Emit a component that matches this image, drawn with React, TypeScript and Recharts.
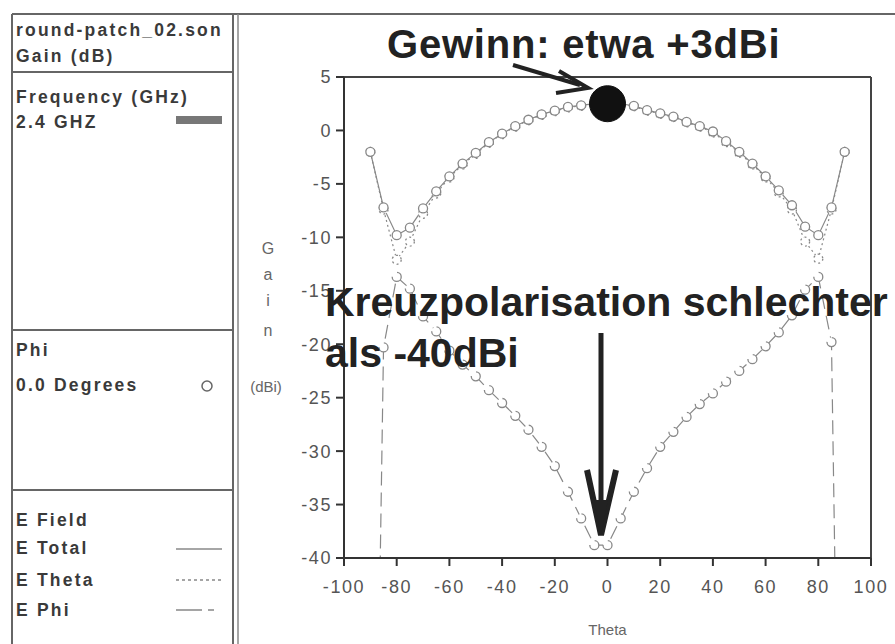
import { LineChart, Line, XAxis, YAxis, ReferenceLine, ReferenceDot } from 'recharts';

const theta = [
  -90, -85, -80, -75, -70, -65, -60, -55, -50, -45, -40, -35, -30, -25, -20, -15, -10, -5, 0,
  5, 10, 15, 20, 25, 30, 35, 40, 45, 50, 55, 60, 65, 70, 75, 80, 85, 90,
];

// E Total (solid)
const eTotal = [
  -2.0, -7.2, -9.8, -9.1, -7.3, -5.7, -4.3, -3.1, -2.1, -1.1, -0.3, 0.4, 1.0, 1.5, 1.85, 2.2, 2.35, 2.5, 2.6,
  2.5, 2.3, 1.9, 1.6, 1.3, 0.8, 0.4, -0.1, -1.0, -2.0, -3.1, -4.3, -5.6, -7.0, -9.0, -9.8, -7.2, -2.0,
];

// E Theta (dotted)
const eTheta = [
  -2.0, -7.4, -12.1, -10.4, -7.8, -5.9, -4.4, -3.2, -2.2, -1.15, -0.35, 0.35, 0.95, 1.45, 1.8, 2.15, 2.3, 2.45, 2.55,
  2.45, 2.25, 1.85, 1.55, 1.25, 0.75, 0.35, -0.2, -1.1, -2.1, -3.2, -4.4, -5.8, -7.4, -10.4, -12.0, -7.4, -2.0,
];

// E Phi (dashed) - drops far below the plot at +/-90
const ePhi = [
  -100, -20.3, -13.7, -14.8, -17.4, -18.8, -20.6, -21.9, -23.0, -24.3, -25.5, -26.7, -28.0, -29.6, -31.4, -33.8, -36.3, -38.8, -38.8,
  -36.3, -33.8, -31.6, -29.6, -28.2, -26.8, -25.6, -24.6, -23.5, -22.5, -21.4, -20.2, -18.9, -17.3, -14.9, -13.7, -19.8, -100,
];

const xTicks = [-100, -80, -60, -40, -20, 0, 20, 40, 60, 80, 100];
const yTicks = [-40, -35, -30, -25, -20, -15, -10, -5, 0, 5];

const data = theta.map((t, i) => ({ theta: t, total: eTotal[i], eth: eTheta[i], eph: ePhi[i] }));

const ring = { r: 4.5, stroke: '#888', strokeWidth: 1.3, fill: '#fff' };
const tickStyle = { fill: '#555', fontSize: 18, letterSpacing: 1.6, fontFamily: 'Liberation Sans' };
const panelText = { fontSize: 17.5, fontWeight: 'bold' as const, fill: '#3a3a3a', letterSpacing: 2.2 };

function Panel() {
  return (
    <svg width={895} height={644} style={{ position: 'absolute', left: 0, top: 0, pointerEvents: 'none' }}
      fontFamily="Liberation Sans">
      {/* frames */}
      <line x1={12} y1={14} x2={895} y2={14} stroke="#666" strokeWidth={2} />
      <line x1={12} y1={14} x2={12} y2={644} stroke="#666" strokeWidth={2} />
      <line x1={233} y1={14} x2={233} y2={644} stroke="#666" strokeWidth={2} />
      <line x1={238} y1={14} x2={238} y2={644} stroke="#888" strokeWidth={1.5} />
      <line x1={12} y1={72} x2={233} y2={72} stroke="#666" strokeWidth={2} />
      <line x1={12} y1={330} x2={233} y2={330} stroke="#666" strokeWidth={2} />
      <line x1={12} y1={490} x2={233} y2={490} stroke="#666" strokeWidth={2} />

      <text x={16} y={36} {...panelText}>round-patch_02.son</text>
      <text x={16} y={62} {...panelText}>Gain (dB)</text>
      <text x={16} y={103} {...panelText}>Frequency (GHz)</text>
      <text x={16} y={128} {...panelText}>2.4 GHZ</text>
      <rect x={176} y={116} width={46} height={8} fill="#777" />
      <text x={16} y={356} {...panelText}>Phi</text>
      <text x={16} y={391} {...panelText}>0.0 Degrees</text>
      <circle cx={207} cy={386} r={5} fill="none" stroke="#666" strokeWidth={1.5} />
      <text x={16} y={526} {...panelText}>E Field</text>
      <text x={16} y={554} {...panelText}>E Total</text>
      <line x1={176} y1={549} x2={222} y2={549} stroke="#888" strokeWidth={1.5} />
      <text x={16} y={586} {...panelText}>E Theta</text>
      <line x1={176} y1={580} x2={222} y2={580} stroke="#888" strokeWidth={1.5} strokeDasharray="3 3" />
      <text x={16} y={616} {...panelText}>E Phi</text>
      <line x1={176} y1={610} x2={222} y2={610} stroke="#888" strokeWidth={1.5} strokeDasharray="26 6 6 40" />

      {/* y axis title */}
      <g fill="#666" fontSize={16} textAnchor="middle">
        <text x={268} y={254}>G</text>
        <text x={268} y={280}>a</text>
        <text x={268} y={306}>i</text>
        <text x={268} y={336}>n</text>
        <text x={266} y={392} fontSize={15}>(dBi)</text>
      </g>

      {/* annotations */}
      <text x={387} y={58} fontSize={40} fontWeight="bold" fill="#222" letterSpacing={0.8}>Gewinn: etwa +3dBi</text>
      <line x1={513} y1={65} x2={580} y2={85} stroke="#222" strokeWidth={4} />
      <polyline points="559,71 588,88 556,93" fill="none" stroke="#222" strokeWidth={4} />

      <text x={325} y={316} fontSize={41} fontWeight="bold" fill="#222">Kreuzpolarisation schlechter</text>
      <text x={325} y={367} fontSize={41} fontWeight="bold" fill="#222">als -40dBi</text>
      <line x1={601} y1={333} x2={601} y2={525} stroke="#222" strokeWidth={5} />
      <polyline points="587,470 601,535 616,470" fill="none" stroke="#222" strokeWidth={6} />
      <polygon points="594,500 601,535 608,500" fill="#222" />
    </svg>
  );
}

export default function App() {
  return (
    <div style={{ position: 'absolute', left: 0, top: 0, width: 895, height: 644, background: '#fff', overflow: 'hidden' }}>
      <div style={{ position: 'absolute', left: 0, top: 0 }}>
        <LineChart width={895} height={644} data={data} margin={{ top: 77, right: 24, bottom: 46, left: 294 }}>
          <XAxis
            dataKey="theta"
            type="number"
            domain={[-100, 100]}
            ticks={xTicks}
            height={40}
            tickSize={8}
            tickMargin={14}
            stroke="#333"
            strokeWidth={2}
            tick={tickStyle}
            label={{ value: 'Theta', position: 'bottom', offset: 26, fill: '#666', fontSize: 15, fontFamily: 'Liberation Sans' }}
          />
          <YAxis
            type="number"
            domain={[-40, 5]}
            allowDataOverflow
            ticks={yTicks}
            width={50}
            tickSize={8}
            tickMargin={4}
            stroke="#333"
            strokeWidth={2}
            tick={tickStyle}
          />
          <ReferenceLine y={5} stroke="#444" strokeWidth={2} />
          <ReferenceLine x={100} stroke="#444" strokeWidth={2} />
          <Line dataKey="eph" stroke="#888" strokeWidth={1.2} strokeDasharray="14 7" dot={ring} isAnimationActive={false} />
          <Line dataKey="eth" stroke="#888" strokeWidth={1.2} strokeDasharray="2 3" dot={ring} isAnimationActive={false} />
          <Line dataKey="total" stroke="#888" strokeWidth={1.2} dot={ring} isAnimationActive={false} />
          <ReferenceDot x={0} y={2.5} r={18} fill="#111" stroke="#111" />
        </LineChart>
      </div>
      <Panel />
    </div>
  );
}
